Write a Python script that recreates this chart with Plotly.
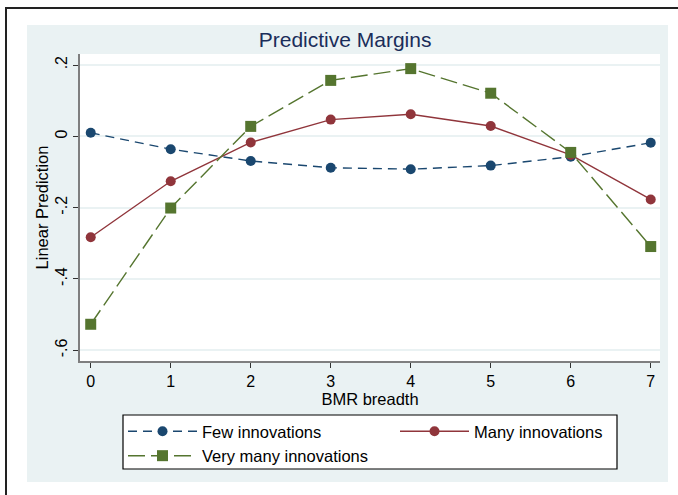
import plotly.graph_objects as go

# BMR breadth categories
bmr = [0, 1, 2, 3, 4, 5, 6, 7]

# predictive margins
few = [0.010, -0.036, -0.069, -0.088, -0.092, -0.082, -0.057, -0.018]
many = [-0.283, -0.126, -0.017, 0.047, 0.062, 0.029, -0.052, -0.177]
very_many = [-0.527, -0.201, 0.028, 0.157, 0.190, 0.121, -0.045, -0.309]

ytick_vals = [0.2, 0, -0.2, -0.4, -0.6]
ytick_text = [".2", "0", "-.2", "-.4", "-.6"]

navy = "#1a476f"
maroon = "#90353b"
green = "#55752f"
bg = "#eaf2f3"

fig = go.Figure()

fig.add_trace(go.Scatter(
    x=bmr, y=few, mode="lines+markers", name="Few innovations",
    line=dict(color=navy, width=1.4, dash="9px,6px"),
    marker=dict(color=navy, size=10, symbol="circle"),
))
fig.add_trace(go.Scatter(
    x=bmr, y=many, mode="lines+markers", name="Many innovations",
    line=dict(color=maroon, width=1.4),
    marker=dict(color=maroon, size=10, symbol="circle"),
))
fig.add_trace(go.Scatter(
    x=bmr, y=very_many, mode="lines+markers", name="Very many innovations",
    line=dict(color=green, width=1.4, dash="17px,6px"),
    marker=dict(color=green, size=11, symbol="square"),
))

# paper coords: x = (px - 80) / 580, y = (361 - py) / 307
def px_x(p):
    return (p - 80) / 580

def px_y(p):
    return (361 - p) / 307

# outer frame, graph region (light blue), plot region, legend box
fig.add_shape(type="rect", xref="paper", yref="paper", layer="below",
              x0=px_x(6), x1=px_x(760), y0=px_y(560), y1=px_y(8),
              line=dict(color="#222222", width=2), fillcolor="white")
fig.add_shape(type="rect", xref="paper", yref="paper", layer="below",
              x0=px_x(27), x1=px_x(668), y0=px_y(482), y1=px_y(25),
              line=dict(width=0), fillcolor=bg)
fig.add_shape(type="rect", xref="paper", yref="paper", layer="below",
              x0=0, x1=1, y0=0, y1=1,
              line=dict(width=0), fillcolor="white")
fig.add_shape(type="rect", xref="paper", yref="paper", layer="below",
              x0=px_x(123), x1=px_x(617), y0=px_y(469), y1=px_y(415),
              line=dict(color="black", width=1.2), fillcolor="white")

font = "Liberation Sans, Arial, sans-serif"

fig.update_layout(
    width=678, height=495,
    margin=dict(l=80, r=18, t=54, b=134, autoexpand=False),
    paper_bgcolor="white",
    plot_bgcolor="white",
    font=dict(family=font, size=16, color="black"),
    title=dict(text="Predictive Margins", x=0.509, xanchor="center",
               y=0.919, yanchor="middle",
               font=dict(size=21, color="#1a2d5a")),
    showlegend=True,
    legend=dict(orientation="h", x=px_x(123), xanchor="left", y=px_y(414), yanchor="top",
                bgcolor="rgba(0,0,0,0)", borderwidth=0,
                entrywidth=188, font=dict(size=16.5), itemwidth=69,
                tracegroupgap=0),
)

fig.update_xaxes(
    range=[-0.134, 7.116], tickvals=bmr, ticks="outside", ticklen=5,
    tickcolor="#333333", showgrid=False, zeroline=False, automargin=False,
    showline=True, linecolor="#7f7f7f", linewidth=2,
    title=dict(text="BMR breadth", standoff=1, font=dict(size=16.5)),
)
fig.update_yaxes(
    range=[-0.630, 0.231], tickvals=ytick_vals, ticktext=ytick_text,
    tickangle=-90, ticks="outside", ticklen=5, tickcolor="#333333",
    showgrid=True, gridcolor=bg, gridwidth=1.5, zeroline=False, automargin=False,
    showline=True, linecolor="#7f7f7f", linewidth=2,
    title=dict(text="Linear Prediction", standoff=0, font=dict(size=16.5)),
)

# the page body has a default 8px margin; drop it so the figure sits at 0,0
fig.write_html("out.html", config={"displayModeBar": False},
               post_script="document.body.style.margin = '0';")
